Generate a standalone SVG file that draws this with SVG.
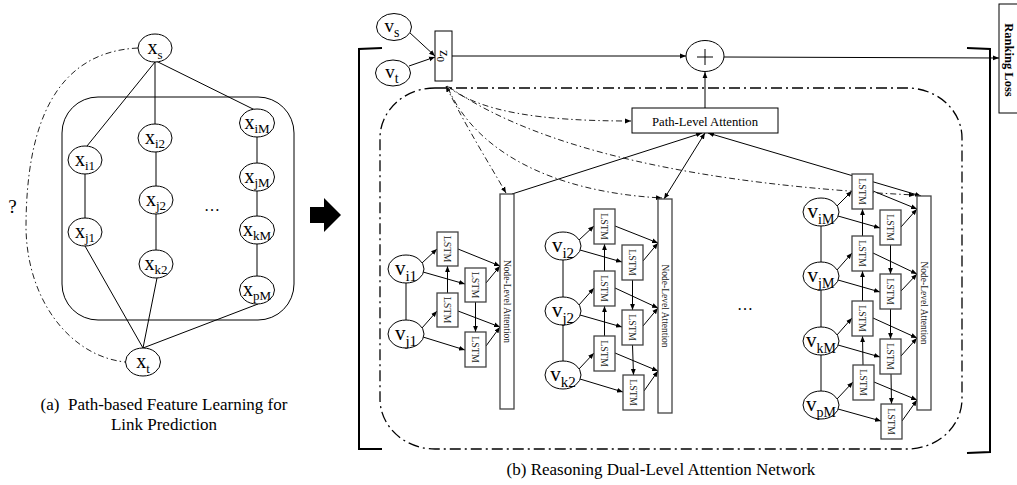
<svg xmlns="http://www.w3.org/2000/svg" width="1017" height="485" viewBox="0 0 1017 485">
<defs>
<marker id="a" viewBox="0 0 8 8" refX="8" refY="4" markerWidth="6" markerHeight="6" orient="auto-start-reverse" markerUnits="userSpaceOnUse"><path d="M0,0.8 L8,4 L0,7.2 Z" fill="#000"/></marker>
<style>
.ln{fill:none;stroke:#000;stroke-width:1}
.dd{fill:none;stroke:#222;stroke-width:1;stroke-dasharray:6 3 1.5 3}
.big{fill:none;stroke:#000;stroke-width:1.3;stroke-dasharray:11 4 2 4}
.br{fill:none;stroke:#000;stroke-width:2}
.el{fill:#fff;stroke:#000;stroke-width:1}
.bx{fill:#fff;stroke:#000;stroke-width:1}
.ls{fill:#fff;stroke:#444;stroke-width:1.3}
text{font-family:"Liberation Serif","Times New Roman",serif;fill:#000}
.lt{font-size:10px;text-anchor:middle;fill:#222}
.nt{font-size:9.5px;text-anchor:middle;fill:#222}
.xl{font-size:20px;text-anchor:middle}
.vl{font-size:21px;text-anchor:middle}
.cap{font-size:17px;text-anchor:middle}
</style>
</defs>
<rect width="1017" height="485" fill="#fff"/>

<!-- ===== Left panel ===== -->
<g id="path-frame"><rect class="ln" x="62" y="97" width="232" height="223" rx="36" ry="36"/></g>

<g id="connectors">
<!-- left panel -->
<path class="dd" d="M138,48 C55,52 26,125 26,228 C27,300 70,356 125,362"/>
<path class="ln" d="M155,62 L87,146 M155,62 L155,124 M156,61 L255,110"/>
<path class="ln" d="M85,174 L85,218 M156,152 L156,186 M156,214 L156,250"/>
<path class="ln" d="M257,137 L257,163 M257,191 L257,216 M257,244 L257,276"/>
<path class="ln" d="M85,246 L143,348 M157,278 L143,348 M258,304 L143,348"/>

<!-- right panel top flow -->
<path class="ln" marker-end="url(#a)" d="M409,32 L435,56"/>
<path class="ln" marker-end="url(#a)" d="M409,66 L435,57"/>
<path class="ln" marker-end="url(#a)" d="M452,56 L686,56"/>
<path class="ln" marker-end="url(#a)" d="M724,57 L999,58"/>
<path class="ln" marker-end="url(#a)" d="M705,108 L705,72"/>

<!-- z0 attention dash-dot lines -->
<path class="dd" marker-end="url(#a)" d="M447,86 C480,112 540,121 631,121"/>
<path class="dd" marker-start="url(#a)" marker-end="url(#a)" d="M446,86 C465,125 490,165 506,193"/>
<path class="dd" marker-end="url(#a)" d="M448,88 C475,150 550,192 662,198"/>
<path class="dd" marker-end="url(#a)" d="M449,87 C540,150 700,185 915,195"/>

<!-- node-level to path-level -->
<path class="ln" marker-end="url(#a)" d="M512,194 L702,133"/>
<path class="ln" marker-start="url(#a)" marker-end="url(#a)" d="M664,199 L705,133"/>
<path class="ln" marker-start="url(#a)" marker-end="url(#a)" d="M708,133 L921,196"/>

<!-- group 1 -->
<path class="ln" d="M406,283 L406,320"/>
<g marker-end="url(#a)">
<path class="ln" d="M422,263 L437,249"/>
<path class="ln" d="M423,272 L465,284"/>
<path class="ln" d="M458,249 L500,266"/>
<path class="ln" d="M486,283 L500,266"/>
<path class="ln" d="M447.5,293 L447.5,266"/>
<path class="ln" d="M475.5,302 L475.5,332"/>
<path class="ln" d="M422,328 L437,311"/>
<path class="ln" d="M423,337 L465,350"/>
<path class="ln" d="M458,311 L500,327"/>
<path class="ln" d="M486,346 L500,327"/>
</g>

<!-- group 2 -->
<path class="ln" d="M563,260 L563,297 M563,325 L563,361"/>
<g marker-end="url(#a)">
<path class="ln" d="M579,240 L594,226"/>
<path class="ln" d="M580,250 L622,262"/>
<path class="ln" d="M615,226 L658,243"/>
<path class="ln" d="M643,261 L658,243"/>
<path class="ln" d="M579,305 L594,288"/>
<path class="ln" d="M580,315 L622,327"/>
<path class="ln" d="M615,288 L658,308"/>
<path class="ln" d="M643,326 L658,308"/>
<path class="ln" d="M579,369 L594,353"/>
<path class="ln" d="M580,379 L623,392"/>
<path class="ln" d="M615,353 L658,371"/>
<path class="ln" d="M644,391 L658,371"/>
<path class="ln" d="M604.5,271 L604.5,244"/>
<path class="ln" d="M604.5,336 L604.5,306"/>
<path class="ln" d="M632.5,280 L632.5,310"/>
<path class="ln" d="M632.5,345 L633.5,375"/>
</g>

<!-- group 3 -->
<path class="ln" d="M821,226 L821,262 M821,290 L821,327 M821,355 L821,391"/>
<g marker-end="url(#a)">
<path class="ln" d="M837,206 L852,191"/>
<path class="ln" d="M838,216 L880,228"/>
<path class="ln" d="M873,191 L917,209"/>
<path class="ln" d="M901,227 L917,209"/>
<path class="ln" d="M837,270 L852,253"/>
<path class="ln" d="M838,280 L880,292"/>
<path class="ln" d="M873,253 L917,274"/>
<path class="ln" d="M901,291 L917,274"/>
<path class="ln" d="M837,335 L852,318"/>
<path class="ln" d="M838,345 L880,357"/>
<path class="ln" d="M873,318 L917,338"/>
<path class="ln" d="M901,356 L917,338"/>
<path class="ln" d="M837,399 L853,382"/>
<path class="ln" d="M838,409 L881,421"/>
<path class="ln" d="M874,382 L917,400"/>
<path class="ln" d="M902,421 L917,400"/>
<path class="ln" d="M862.5,236 L862.5,209"/>
<path class="ln" d="M862.5,301 L862.5,271"/>
<path class="ln" d="M863,365 L862.5,336"/>
<path class="ln" d="M890.5,245 L890.5,274"/>
<path class="ln" d="M890.5,309 L890.5,339"/>
<path class="ln" d="M891,374 L891.5,404"/>
</g>
</g>

<!-- left nodes -->
<g id="xs"><ellipse class="el" cx="155" cy="48" rx="17" ry="14"/><text class="xl" x="155" y="54">x<tspan font-size="13" dy="5">s</tspan></text></g>
<g id="xi1"><ellipse class="el" cx="85" cy="160" rx="17" ry="14"/><text class="xl" x="85" y="166">x<tspan font-size="13" dy="4">i1</tspan></text></g>
<g id="xj1"><ellipse class="el" cx="85" cy="232" rx="17" ry="14"/><text class="xl" x="85" y="238">x<tspan font-size="13" dy="4">j1</tspan></text></g>
<g id="xi2"><ellipse class="el" cx="155" cy="138" rx="17" ry="14"/><text class="xl" x="155" y="144">x<tspan font-size="13" dy="4">i2</tspan></text></g>
<g id="xj2"><ellipse class="el" cx="156" cy="200" rx="17" ry="14"/><text class="xl" x="156" y="206">x<tspan font-size="13" dy="4">j2</tspan></text></g>
<g id="xk2"><ellipse class="el" cx="156" cy="264" rx="17" ry="14"/><text class="xl" x="156" y="270">x<tspan font-size="13" dy="4">k2</tspan></text></g>
<g id="xiM"><ellipse class="el" cx="257" cy="123" rx="17.5" ry="14"/><text class="xl" x="257" y="129">x<tspan font-size="13" dy="4">iM</tspan></text></g>
<g id="xjM"><ellipse class="el" cx="257" cy="177" rx="17.5" ry="14"/><text class="xl" x="257" y="183">x<tspan font-size="13" dy="4">jM</tspan></text></g>
<g id="xkM"><ellipse class="el" cx="257" cy="230" rx="17.5" ry="14"/><text class="xl" x="257" y="236">x<tspan font-size="13" dy="4">kM</tspan></text></g>
<g id="xpM"><ellipse class="el" cx="257" cy="290" rx="17.5" ry="14"/><text class="xl" x="257" y="296">x<tspan font-size="13" dy="4">pM</tspan></text></g>
<g id="xt"><ellipse class="el" cx="143" cy="362" rx="17.5" ry="14"/><text class="xl" x="143" y="368">x<tspan font-size="13" dy="5">t</tspan></text></g>

<text x="12.5" y="213" font-size="19" text-anchor="middle">?</text>
<text x="212" y="211" font-size="16" text-anchor="middle">…</text>
<text class="cap" x="164" y="410">(a)&#160; Path-based Feature Learning for</text>
<text class="cap" x="164" y="430">Link Prediction</text>

<g id="big-arrow"><polygon points="310,207 324,207 324,198 341,215 324,232 324,223 310,223" fill="#000"/></g>

<!-- ===== Right panel ===== -->
<g id="brackets">
<path class="br" d="M382,48 L359,49 L359,449 L382,449"/>
<path class="br" d="M967,48 L990,49 L990,452 L967,453"/>
</g>
<g id="inner-frame"><rect class="big" x="380" y="88" width="582" height="361" rx="55" ry="50"/></g>

<g id="vs"><ellipse class="el" cx="394" cy="27" rx="17.5" ry="13.5"/><text x="392" y="32" font-size="19" text-anchor="middle">v<tspan font-size="14" dy="5">s</tspan></text></g>
<g id="vt"><ellipse class="el" cx="393" cy="73" rx="17.5" ry="13"/><text x="392" y="78" font-size="19" text-anchor="middle">v<tspan font-size="14" dy="5">t</tspan></text></g>
<g id="z0"><rect class="bx" x="435" y="31" width="17" height="50"/><text transform="translate(443.5,56) rotate(90)" x="0" y="4" font-size="15" text-anchor="middle">z<tspan font-size="11" dy="3">0</tspan></text></g>
<g id="plus"><ellipse class="el" cx="705" cy="56" rx="19" ry="15.5"/><path class="ln" d="M697,57 L713,57 M705,49 L705,65" stroke-width="1.2"/></g>
<g id="ranking-loss"><rect class="bx" x="999" y="4" width="30" height="109"/><text transform="translate(1009,60) rotate(90)" x="0" y="4.5" font-size="12.5" font-weight="bold" text-anchor="middle">Ranking Loss</text></g>
<g id="path-attn"><rect class="bx" x="632" y="108" width="146" height="25"/><text x="705" y="126" font-size="12.7" text-anchor="middle">Path-Level Attention</text></g>

<g id="nla1"><rect class="ls" x="500" y="194" width="14" height="215"/><text class="nt" transform="translate(507,301.5) rotate(90)" y="3.2">Node-Level Attention</text></g>
<g id="nla2"><rect class="ls" x="658" y="199" width="14" height="214"/><text class="nt" transform="translate(665,306) rotate(90)" y="3.2">Node-Level Attention</text></g>
<g id="nla3"><rect class="ls" x="917" y="196" width="14" height="214"/><text class="nt" transform="translate(924,303) rotate(90)" y="3.2">Node-Level Attention</text></g>

<g id="vi1"><ellipse class="el" cx="406" cy="269" rx="18" ry="14"/><text class="vl" x="406" y="275">v<tspan font-size="15" dy="6">i1</tspan></text></g>
<g id="vj1"><ellipse class="el" cx="406" cy="334" rx="18" ry="14"/><text class="vl" x="406" y="340">v<tspan font-size="15" dy="6">j1</tspan></text></g>
<g id="vi2"><ellipse class="el" cx="563" cy="246" rx="18" ry="14"/><text class="vl" x="563" y="252">v<tspan font-size="15" dy="6">i2</tspan></text></g>
<g id="vj2"><ellipse class="el" cx="563" cy="311" rx="18" ry="14"/><text class="vl" x="563" y="317">v<tspan font-size="15" dy="6">j2</tspan></text></g>
<g id="vk2"><ellipse class="el" cx="563" cy="375" rx="18" ry="14"/><text class="vl" x="563" y="381">v<tspan font-size="15" dy="6">k2</tspan></text></g>
<g id="viM"><ellipse class="el" cx="821" cy="212" rx="18" ry="14"/><text class="vl" x="821" y="218">v<tspan font-size="14" dy="6">iM</tspan></text></g>
<g id="vjM"><ellipse class="el" cx="821" cy="276" rx="18" ry="14"/><text class="vl" x="821" y="282">v<tspan font-size="14" dy="6">jM</tspan></text></g>
<g id="vkM"><ellipse class="el" cx="821" cy="341" rx="18" ry="14"/><text class="vl" x="821" y="347">v<tspan font-size="14" dy="6">kM</tspan></text></g>
<g id="vpM"><ellipse class="el" cx="821" cy="405" rx="18" ry="14"/><text class="vl" x="821" y="411">v<tspan font-size="14" dy="6">pM</tspan></text></g>

<g id="lstm1a"><rect class="ls" x="437" y="232" width="21" height="34"/><text class="lt" transform="translate(447.5,249) rotate(90)" y="3.4">LSTM</text></g>
<g id="lstm1b"><rect class="ls" x="465" y="268" width="21" height="34"/><text class="lt" transform="translate(475.5,285) rotate(90)" y="3.4">LSTM</text></g>
<g id="lstm1c"><rect class="ls" x="437" y="293" width="21" height="34"/><text class="lt" transform="translate(447.5,310) rotate(90)" y="3.4">LSTM</text></g>
<g id="lstm1d"><rect class="ls" x="465" y="332" width="21" height="35"/><text class="lt" transform="translate(475.5,349.5) rotate(90)" y="3.4">LSTM</text></g>

<g id="lstm2a"><rect class="ls" x="594" y="209" width="21" height="35"/><text class="lt" transform="translate(604.5,226.5) rotate(90)" y="3.4">LSTM</text></g>
<g id="lstm2b"><rect class="ls" x="622" y="245" width="21" height="35"/><text class="lt" transform="translate(632.5,262.5) rotate(90)" y="3.4">LSTM</text></g>
<g id="lstm2c"><rect class="ls" x="594" y="271" width="21" height="35"/><text class="lt" transform="translate(604.5,288.5) rotate(90)" y="3.4">LSTM</text></g>
<g id="lstm2d"><rect class="ls" x="622" y="310" width="21" height="35"/><text class="lt" transform="translate(632.5,327.5) rotate(90)" y="3.4">LSTM</text></g>
<g id="lstm2e"><rect class="ls" x="594" y="336" width="21" height="35"/><text class="lt" transform="translate(604.5,353.5) rotate(90)" y="3.4">LSTM</text></g>
<g id="lstm2f"><rect class="ls" x="623" y="375" width="21" height="35"/><text class="lt" transform="translate(633.5,392.5) rotate(90)" y="3.4">LSTM</text></g>

<g id="lstm3a"><rect class="ls" x="852" y="174" width="21" height="35"/><text class="lt" transform="translate(862.5,191.5) rotate(90)" y="3.4">LSTM</text></g>
<g id="lstm3b"><rect class="ls" x="880" y="210" width="21" height="35"/><text class="lt" transform="translate(890.5,227.5) rotate(90)" y="3.4">LSTM</text></g>
<g id="lstm3c"><rect class="ls" x="852" y="236" width="21" height="35"/><text class="lt" transform="translate(862.5,253.5) rotate(90)" y="3.4">LSTM</text></g>
<g id="lstm3d"><rect class="ls" x="880" y="274" width="21" height="35"/><text class="lt" transform="translate(890.5,291.5) rotate(90)" y="3.4">LSTM</text></g>
<g id="lstm3e"><rect class="ls" x="852" y="301" width="21" height="35"/><text class="lt" transform="translate(862.5,318.5) rotate(90)" y="3.4">LSTM</text></g>
<g id="lstm3f"><rect class="ls" x="880" y="339" width="21" height="35"/><text class="lt" transform="translate(890.5,356.5) rotate(90)" y="3.4">LSTM</text></g>
<g id="lstm3g"><rect class="ls" x="853" y="365" width="21" height="35"/><text class="lt" transform="translate(863.5,382.5) rotate(90)" y="3.4">LSTM</text></g>
<g id="lstm3h"><rect class="ls" x="881" y="404" width="21" height="35"/><text class="lt" transform="translate(891.5,421.5) rotate(90)" y="3.4">LSTM</text></g>

<text x="745" y="310" font-size="16" text-anchor="middle">…</text>
<text class="cap" x="661" y="475">(b) Reasoning Dual-Level Attention Network</text>
</svg>
